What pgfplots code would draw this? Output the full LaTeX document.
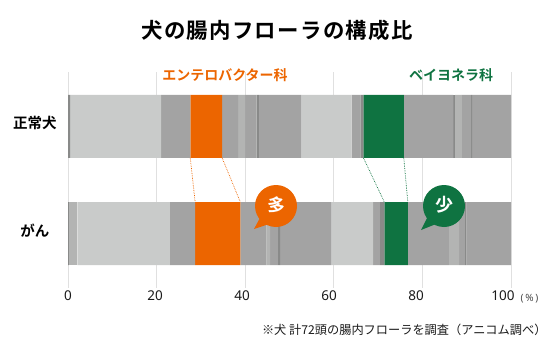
\documentclass[border=0pt]{standalone}
\usepackage{pgfplots}
\usepackage{fontspec}
\pgfplotsset{compat=1.18}
\setmainfont{Noto Sans}
\newfontfamily\jp{Noto Sans CJK JP}
\newfontfamily\jpb[LetterSpace=6]{Noto Sans CJK JP Bold}
\newfontfamily\jpbb{Noto Sans CJK JP Bold}
\definecolor{lightg}{HTML}{C9CBCA}
\definecolor{midg}{HTML}{A3A3A3}
\definecolor{lighterg}{HTML}{B3B4B3}
\definecolor{darkg}{HTML}{898A89}
\definecolor{org}{HTML}{EC6500}
\definecolor{grn}{HTML}{0F7341}
\definecolor{txt}{HTML}{1A1A1A}
\begin{document}
\begin{tikzpicture}[x=1pt,y=1pt]
\useasboundingbox (0,0) rectangle (553,354);
\pgfplotsset{base/.style={
  at={(68pt,66pt)},anchor=south west,
  width=443pt,height=216pt,scale only axis,
  xmin=0,xmax=100,ymin=-0.509,ymax=1.509,
  axis line style={draw=none},
  tick style={draw=none},
}}
\begin{axis}[base,
  xbar stacked,bar width=63pt,
  xtick={0,20,40,60,80,100},
  ytick={0,1},yticklabels={がん,正常犬},
  xmajorgrids,major grid style={draw=black!12,line width=0.8pt},
  ymajorgrids=false,
  axis on top=false,
  /pgf/number format/assume math mode=true,
  tick label style={font=\fontsize{13.5}{14}\selectfont\color{txt}},
  xticklabel style={yshift=1pt,xshift={-1.6pt*\ticknum}},
  yticklabel style={font=\fontsize{14.5}{15}\selectfont\jpbb\color{black},anchor=center,xshift=-33pt,yshift=3pt},
  every axis plot/.append style={draw=none},
]
\addplot[fill=darkg] coordinates {(0.5,1) (0.2,0)};
\addplot[fill=lighterg] coordinates {(0,1) (1.9,0)};
\addplot[fill=lightg] coordinates {(20.5,1) (20.9,0)};
\addplot[fill=midg] coordinates {(6.6,1) (5.7,0)};
\addplot[fill=org] coordinates {(7.2,1) (10.2,0)};
\addplot[fill=midg] coordinates {(3.6,1) (5.9,0)};
\addplot[fill=lighterg] coordinates {(1.6,1) (0.8,0)};
\addplot[fill=midg] coordinates {(2.6,1) (1.8,0)};
\addplot[fill=darkg] coordinates {(0.5,1) (0.5,0)};
\addplot[fill=midg] coordinates {(9.6,1) (11.5,0)};
\addplot[fill=lightg] coordinates {(11.3,1) (9.5,0)};
\addplot[fill=midg] coordinates {(2,1) (1.5,0)};
\addplot[fill=darkg] coordinates {(0.7,1) (1,0)};
\addplot[fill=grn] coordinates {(9.1,1) (5.3,0)};
\addplot[fill=midg] coordinates {(11.2,1) (9.3,0)};
\addplot[fill=darkg] coordinates {(0.4,1) (0,0)};
\addplot[fill=lighterg] coordinates {(1.5,1) (2.3,0)};
\addplot[fill=midg] coordinates {(2.1,1) (1.3,0)};
\addplot[fill=darkg] coordinates {(0.2,1) (0.3,0)};
\addplot[fill=midg] coordinates {(8.8,1) (10.1,0)};
\end{axis}
\begin{axis}[base,hide axis]
\addplot[org,densely dotted,line width=0.7pt] coordinates {(27.6,0.7056) (28.7,0.2944)};
\addplot[org,densely dotted,line width=0.7pt] coordinates {(34.8,0.7056) (38.9,0.2944)};
\addplot[grn,densely dotted,line width=0.7pt] coordinates {(66.7,0.7056) (71.4,0.2944)};
\addplot[grn,densely dotted,line width=0.7pt] coordinates {(75.8,0.7056) (76.7,0.2944)};
\end{axis}
\begin{scope}[y=-1pt,yshift=354pt]
\node[font=\fontsize{21.4}{22}\selectfont\jpb,text=black] at (277,30) {犬の腸内フローラの構成比};
\node[font=\fontsize{14}{14}\selectfont\jpbb,text=org] at (225,75) {エンテロバクター科};
\node[font=\fontsize{14}{14}\selectfont\jpbb,text=grn] at (451,75) {ベイヨネラ科};
\fill[org] (276,206) circle (21);
\fill[org] (254,229) -- (261,216) -- (269,224) -- cycle;
\fill[grn] (444,206) circle (21);
\fill[grn] (421,230) -- (428,216) -- (436,224) -- cycle;
\node[font=\fontsize{18}{18}\selectfont\jpbb,text=white,rotate=-10] at (277,205) {多};
\node[font=\fontsize{18}{18}\selectfont\jpbb,text=white] at (444,205) {少};
\node[font=\fontsize{10}{10}\selectfont,text=txt!80] at (529.5,299) {(\,\%\,)};
\node[font=\fontsize{12.2}{12}\selectfont\jp,text=txt,anchor=east] at (550,330) {※犬 計72頭の腸内フローラを調査（アニコム調べ）};
\end{scope}
\end{tikzpicture}
\end{document}
